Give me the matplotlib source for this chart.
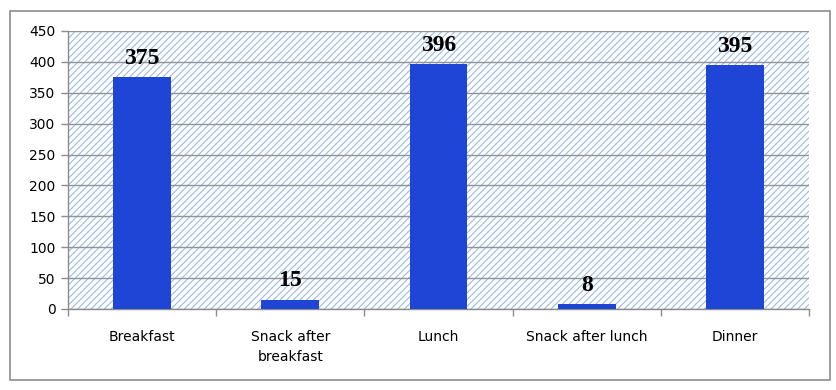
import matplotlib
matplotlib.use("Agg")
import matplotlib.pyplot as plt
from matplotlib.patches import Rectangle

categories = ["Breakfast", "Snack after\nbreakfast", "Lunch", "Snack after lunch", "Dinner"]
values = [375, 15, 396, 8, 395]
yticks = [0, 50, 100, 150, 200, 250, 300, 350, 400, 450]

plt.rcParams['hatch.color'] = '#9BBAE2'
plt.rcParams['hatch.linewidth'] = 0.8

fig = plt.figure(figsize=(8.37, 3.90), dpi=100)
fig.patches.append(Rectangle((10/837, 1 - 380/390), 820/837, 369/390, transform=fig.transFigure,
                             fill=False, edgecolor='#8c8c8c', linewidth=1.2))
ax = fig.add_axes([68/837, 1 - 309/390, 741/837, 278/390])
ax.patch.set_facecolor('white')
ax.patch.set_hatch('/////')
ax.patch.set_edgecolor('#9BBAE2')
ax.patch.set_linewidth(0)

x = list(range(len(categories)))
bars = ax.bar(x, values, width=0.39, color='#1F45D6', zorder=3)
for xi, v in zip(x, values):
    ax.annotate(str(v), (xi, v), xytext=(0, 6), textcoords='offset points',
                ha='center', va='bottom', fontsize=17, fontweight='bold',
                family='Liberation Serif', zorder=4)

ax.set_xlim(-0.5, len(categories) - 0.5)
ax.set_ylim(0, 450)
ax.set_yticks(yticks)
ax.yaxis.grid(True, color='#939393', linewidth=1.0, zorder=1)
ax.set_axisbelow(True)
ax.set_xticks(x)
ax.set_xticklabels(categories, fontsize=10, linespacing=1.55)
ax.tick_params(axis='x', which='major', length=0, pad=15)
ax.set_xticks([i - 0.5 for i in range(len(categories) + 1)], minor=True)
ax.tick_params(axis='x', which='minor', length=5, color='#8c8c8c', width=1)
ax.tick_params(axis='y', length=5, color='#8c8c8c', width=1, labelsize=10, pad=4)
for s in ['top', 'right']:
    ax.spines[s].set_visible(False)
for s in ['left', 'bottom']:
    ax.spines[s].set_color('#8c8c8c')
    ax.spines[s].set_linewidth(1)

fig.savefig('out.png', dpi=100)
